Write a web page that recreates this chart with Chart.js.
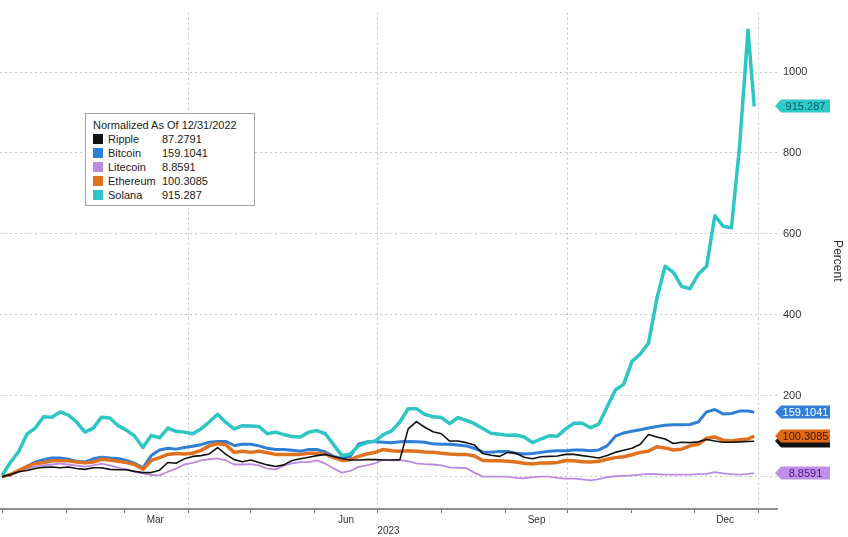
<!DOCTYPE html>
<html>
<head>
<meta charset="utf-8">
<script src="https://cdn.jsdelivr.net/npm/chart.js@4.4.0/dist/chart.umd.min.js"></script>
<style>
  html, body { margin: 0; padding: 0; background: #fff; }
  #wrap { position: relative; width: 848px; height: 537px; }
  #legend {
    position: absolute; left: 85px; top: 113px; width: 170px;
    box-sizing: border-box; padding: 5px 0 3px 7px;
    background: #fff; border: 1px solid #a3a3a3;
    font: 11px 'Liberation Sans', Arial, sans-serif; color: #222;
  }
  #legend .title { line-height: 13px; white-space: nowrap; }
  #legend .row { display: flex; align-items: center; height: 14px; white-space: nowrap; }
  #legend .sw { width: 10px; height: 10px; margin-right: 5px; }
  #legend .name { width: 54px; }
</style>
</head>
<body>
<div id="wrap">
  <canvas id="chart" width="848" height="537"></canvas>
  <div id="legend"></div>
</div>
<script>
// day of year 2023 (0 = Jan 1)
const days = [0,4,8,12,16,20,24,28,32,36,40,44,48,52,56,60,64,68,72,76,80,84,88,92,96,100,104,108,112,116,120,124,128,132,136,140,144,148,152,156,160,164,168,172,176,180,184,188,192,196,200,204,208,212,216,220,224,228,232,236,240,244,248,252,256,260,264,268,272,276,280,284,288,292,296,300,304,308,312,316,320,324,328,332,336,340,344,348,352,356,360,363];

const ripple = [0,5,12,15,20,23,24,22,24,20,18,22,22,18,17,17,13,10,10,16,35,33,44,50,
  52,56,72,55,42,37,41,35,29,25,29,40,44,48,52,55,50,45,41,41,42,42,
  41,41,42,118,136,122,111,106,88,88,84,78,57,53,50,60,58,48,44,49,50,51,
  55,55,52,49,46,52,60,65,70,80,104,98,93,82,85,84,86,92,88,85,85,86,87,87.2791];

const bitcoin = [1,4,14,25,36,42,46,46,43,38,36,44,48,46,45,40,33,22,52,66,70,68,72,75,
  79,85,87,87,77,80,80,76,70,67,67,65,63,67,67,61,50,45,50,80,86,86,
  85,84,86,87,86,85,81,80,80,78,76,70,61,60,62,62,58,56,57,60,63,64,
  64,66,66,64,66,76,100,108,112,116,120,124,127,128,128,129,135,160,166,155,156,162,162,159.1041];

const litecoin = [0,4,12,20,25,28,30,32,30,27,25,28,32,28,22,18,12,8,4,3,12,20,30,34,
  40,43,45,40,30,30,31,28,20,18,27,33,36,36,40,32,20,10,14,24,28,33,
  42,40,41,38,33,31,30,28,23,22,21,10,0,0,0,0,-3,-4,-1,0,0,-3,
  -5,-5,-7,-9,-6,-1,1,2,3,5,7,6,5,5,5,5,6,7,11,8,6,5,7,8.8591];

const ethereum = [0,5,15,25,32,35,39,39,39,36,34,36,43,41,38,35,30,18,40,47,55,57,56,58,
  65,76,82,79,60,63,60,63,59,55,55,55,55,58,58,56,47,40,42,50,56,60,
  67,64,63,64,63,61,60,58,56,55,55,51,40,39,39,38,36,33,31,34,34,35,
  40,39,37,36,38,43,47,49,54,60,63,74,71,66,68,76,80,95,98,90,88,91,93,100.3085];

const solana = [3,35,62,105,120,148,147,160,152,135,110,120,147,145,126,115,100,72,102,96,120,112,110,106,
  118,135,154,134,118,126,125,124,106,110,104,99,98,110,114,106,79,52,56,76,84,88,
  104,113,135,168,168,154,148,146,131,146,139,131,119,107,105,102,103,98,84,93,101,100,
  118,132,132,121,130,172,214,228,285,303,330,440,520,505,470,465,500,520,645,619,615,820,1104,915.287];

const seriesNames = ['Ripple', 'Bitcoin', 'Litecoin', 'Ethereum', 'Solana'];
const seriesValues = [ripple, bitcoin, litecoin, ethereum, solana];
const legendValues = ['87.2791', '159.1041', '8.8591', '100.3085', '915.287'];
const seriesColors = ['#111111', '#2f7fd8', '#b98be3', '#e0711f', '#2ec5c5'];
const lineWidths = [1.6, 3, 1.8, 3.5, 3.5];
const drawOrder = [0, 3, 4, 2, 1];
const tagColors = ['#111111', '#2f7fd8', '#c08fea', '#e26a16', '#2ec9c9'];
const tagTextColors = ['#111111', '#ffffff', '#4b1d78', '#3b1500', '#0f5c66'];
const tagOrder = [4, 1, 0, 3, 2];

const monthStarts = [0, 31, 59, 90, 120, 151, 181, 212, 243, 273, 304, 334, 365];
const quarterStarts = [90, 181, 273, 365];
const tickDays = [59, 151, 243, 334];
const tickLabels = ['Mar', 'Jun', 'Sep', 'Dec'];
const yTicks = [0, 200, 400, 600, 800, 1000];

const fontFamily = "'Liberation Sans', Arial, sans-serif";
const gridColor = '#c6c6c6';

// legend box
const legendEl = document.getElementById('legend');
legendEl.innerHTML = '<div class="title">Normalized As Of 12/31/2022</div>' +
  seriesNames.map((n, i) =>
    `<div class="row"><span class="sw" style="background:${seriesColors[i]}"></span>` +
    `<span class="name">${n}</span><span>${legendValues[i]}</span></div>`).join('');

// value tags on the right axis
const valueTags = {
  id: 'valueTags',
  afterDraw(chart) {
    const { ctx, chartArea, scales } = chart;
    tagOrder.forEach(i => {
      const pts = chart.data.datasets[i].data;
      const y = Math.round(scales.y.getPixelForValue(pts[pts.length - 1].y));
      const x0 = chartArea.right - 2, x1 = x0 + 6, x2 = x0 + 55, h = 6.5;
      ctx.save();
      ctx.fillStyle = tagColors[i];
      ctx.beginPath();
      ctx.moveTo(x0, y);
      ctx.lineTo(x1, y - h);
      ctx.lineTo(x2, y - h);
      ctx.lineTo(x2, y + h);
      ctx.lineTo(x1, y + h);
      ctx.closePath();
      ctx.fill();
      ctx.fillStyle = tagTextColors[i];
      ctx.font = '11px ' + fontFamily;
      ctx.textAlign = 'center';
      ctx.textBaseline = 'middle';
      ctx.fillText(legendValues[i], (x1 + x2) / 2, y + 0.5);
      ctx.restore();
    });
  }
};

const chart = new Chart(document.getElementById('chart'), {
  type: 'line',
  data: {
    datasets: seriesNames.map((name, i) => ({
      label: name,
      data: days.map((d, k) => ({ x: d, y: seriesValues[i][k] })),
      borderColor: seriesColors[i],
      borderWidth: lineWidths[i],
      order: drawOrder[i],
      pointRadius: 0,
      tension: 0,
      borderJoinStyle: 'round',
      fill: false,
    })),
  },
  options: {
    responsive: false,
    animation: false,
    layout: { padding: 0 },
    plugins: {
      legend: { display: false },
      tooltip: { enabled: false },
    },
    scales: {
      x: {
        type: 'linear',
        min: -1,
        max: 374,
        afterBuildTicks: s => { s.ticks = monthStarts.map(v => ({ value: v })); },
        afterFit: s => { s.height = 28; },
        grid: {
          color: c => (c.tick && quarterStarts.includes(c.tick.value)) ? gridColor : 'rgba(0,0,0,0)',
          tickColor: '#7a7a7a',
          tickLength: 4,
        },
        border: { color: '#8e8e8e', width: 2, dash: [2, 3] },
        ticks: {
          autoSkip: false,
          maxRotation: 0,
          padding: 1,
          labelOffset: 31,
          color: '#333',
          font: { family: fontFamily, size: 10 },
          callback: v => {
            const k = tickDays.indexOf(v);
            return k >= 0 ? tickLabels[k] : '';
          },
        },
        title: {
          display: true,
          text: '2023',
          color: '#333',
          font: { family: fontFamily, size: 10 },
          padding: 0,
        },
      },
      y: {
        position: 'right',
        min: -80,
        max: 1147,
        afterBuildTicks: s => { s.ticks = yTicks.map(v => ({ value: v })); },
        afterFit: s => { s.width = 71; },
        grid: { color: gridColor, drawTicks: false },
        border: { display: false, dash: [2, 3] },
        ticks: {
          padding: 6,
          color: '#333',
          font: { family: fontFamily, size: 11 },
          callback: v => (v === 0 ? '' : v),
        },
        title: {
          display: true,
          text: 'Percent',
          color: '#333',
          font: { family: fontFamily, size: 12 },
          padding: { top: 3, bottom: 0 },
        },
      },
    },
  },
  plugins: [valueTags],
});
</script>
</body>
</html>
